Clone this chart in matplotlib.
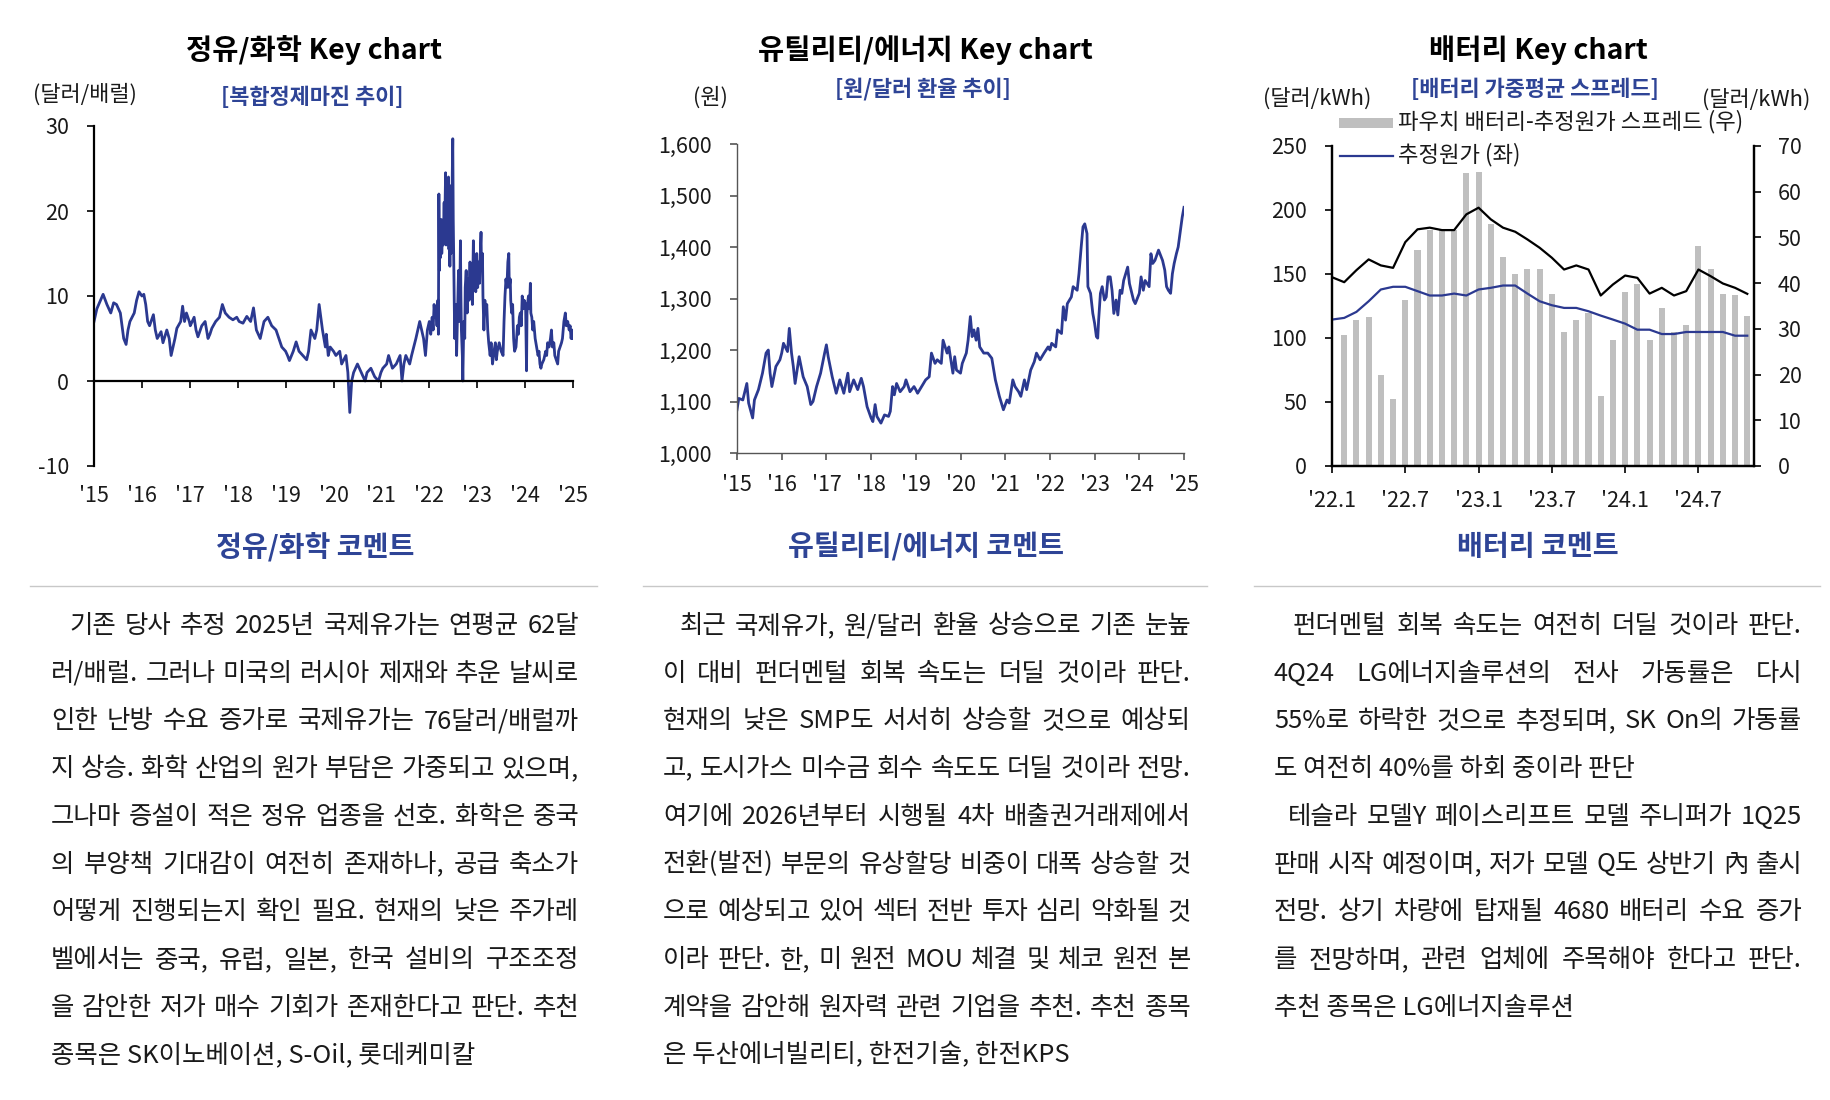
import matplotlib.pyplot as plt
import numpy as np
from matplotlib.lines import Line2D
from matplotlib.patches import Rectangle

FONT = ["Noto Sans CJK KR", "DejaVu Sans"]
plt.rcParams["font.family"] = FONT
plt.rcParams["axes.unicode_minus"] = False

W, H = 1830, 1100
LINE_BLUE = "#2B3990"
TEXT_BLUE = "#2E4496"
BAR_GRAY = "#BFBFBF"
INK = "#1A1A1A"

# --- 정유/화학: 복합정제마진 (달러/배럴), (연도, 값) ---
margin_2015_2021 = [
    (2015.00, 7.0), (2015.06, 8.5), (2015.19, 10.2), (2015.27, 9.0), (2015.35, 8.0),
    (2015.41, 9.2), (2015.47, 9.0), (2015.55, 8.0), (2015.62, 5.0), (2015.67, 4.3),
    (2015.71, 6.0), (2015.75, 7.0), (2015.84, 8.0), (2015.89, 9.5), (2015.94, 10.5),
    (2016.00, 10.0), (2016.04, 10.2), (2016.08, 9.0), (2016.12, 7.0), (2016.16, 6.5),
    (2016.24, 7.8), (2016.28, 6.0), (2016.32, 5.0), (2016.40, 5.8), (2016.44, 4.5),
    (2016.52, 6.0), (2016.57, 5.0), (2016.61, 3.0), (2016.65, 4.0), (2016.69, 5.0),
    (2016.73, 6.2), (2016.81, 7.0), (2016.85, 8.8), (2016.89, 7.0), (2016.93, 8.0),
    (2016.99, 7.0), (2017.01, 6.5), (2017.09, 7.5), (2017.13, 6.0), (2017.17, 5.2),
    (2017.25, 6.5), (2017.32, 7.0), (2017.38, 5.0), (2017.42, 5.5), (2017.46, 6.2),
    (2017.54, 7.0), (2017.62, 7.5), (2017.68, 9.0), (2017.74, 8.0), (2017.82, 7.5),
    (2017.90, 7.2), (2017.98, 7.5), (2018.03, 7.0), (2018.11, 6.8), (2018.19, 7.6),
    (2018.27, 7.0), (2018.33, 8.6), (2018.39, 6.0), (2018.47, 5.0), (2018.55, 7.0),
    (2018.63, 7.5), (2018.71, 6.5), (2018.80, 6.0), (2018.86, 5.0), (2018.92, 4.0),
    (2019.00, 3.5), (2019.04, 3.0), (2019.08, 2.4), (2019.16, 3.5), (2019.22, 4.6),
    (2019.28, 3.5), (2019.36, 3.0), (2019.44, 2.5), (2019.48, 3.5), (2019.53, 6.0),
    (2019.61, 5.0), (2019.65, 6.0), (2019.70, 9.0), (2019.77, 6.0), (2019.83, 4.0),
    (2019.85, 5.5), (2019.89, 3.0), (2019.93, 4.0), (2020.00, 3.5), (2020.05, 3.0),
    (2020.13, 3.5), (2020.17, 2.0), (2020.26, 3.0), (2020.30, 1.0), (2020.34, -3.7),
    (2020.38, 0.0), (2020.42, 1.0), (2020.50, 2.0), (2020.58, 1.0), (2020.66, 0.0),
    (2020.70, 1.0), (2020.78, 1.5), (2020.86, 0.5), (2020.94, 0.0), (2020.99, 1.0),
    (2021.03, 1.5), (2021.11, 2.0), (2021.15, 3.0), (2021.23, 1.5), (2021.31, 2.0),
    (2021.39, 3.0), (2021.43, 0.0), (2021.47, 2.0), (2021.51, 3.0), (2021.59, 2.0),
    (2021.63, 3.0), (2021.72, 5.0), (2021.80, 7.0), (2021.84, 6.0), (2021.88, 5.0),
    (2021.92, 3.0), (2021.96, 6.0),
]
margin_2022 = [
    (2022.00, 7.0), (2022.03, 5.5), (2022.06, 7.5), (2022.08, 6.0), (2022.10, 9.0),
    (2022.12, 7.5), (2022.14, 8.5), (2022.16, 6.5), (2022.18, 9.5), (2022.19, 5.5),
    (2022.20, 22.0), (2022.21, 13.0), (2022.22, 18.0), (2022.23, 14.5), (2022.25, 19.0),
    (2022.26, 15.0), (2022.28, 18.5), (2022.29, 16.0), (2022.31, 21.0), (2022.32, 17.5),
    (2022.34, 24.5), (2022.35, 16.0), (2022.36, 22.0), (2022.38, 17.0), (2022.40, 24.0),
    (2022.41, 15.5), (2022.42, 21.0), (2022.43, 13.5), (2022.44, 22.5), (2022.45, 15.0),
    (2022.46, 23.0), (2022.47, 17.0), (2022.48, 24.5), (2022.49, 28.5), (2022.50, 19.0),
    (2022.51, 14.0), (2022.52, 8.0), (2022.53, 5.0), (2022.55, 9.0), (2022.57, 3.0),
    (2022.59, 8.0), (2022.61, 13.0), (2022.63, 7.0), (2022.65, 16.5), (2022.66, 10.0),
    (2022.67, 6.0), (2022.69, 3.0), (2022.70, 0.0), (2022.72, 7.0), (2022.74, 5.0),
    (2022.75, 11.0), (2022.77, 13.0), (2022.79, 8.0), (2022.81, 12.0), (2022.83, 9.5),
    (2022.85, 14.0), (2022.86, 10.0), (2022.88, 13.0), (2022.90, 9.0), (2022.92, 16.5),
    (2022.93, 11.0), (2022.95, 14.0), (2022.97, 10.5), (2022.99, 15.0),
]
margin_2023 = [
    (2023.01, 11.0), (2023.03, 14.0), (2023.05, 11.5), (2023.07, 16.0), (2023.08, 17.5),
    (2023.09, 13.0), (2023.11, 15.0), (2023.12, 10.0), (2023.14, 6.0), (2023.16, 9.5),
    (2023.18, 8.0), (2023.20, 9.0), (2023.22, 6.0), (2023.24, 4.5), (2023.27, 3.0),
    (2023.29, 4.5), (2023.32, 2.0), (2023.35, 3.5), (2023.38, 4.5), (2023.40, 2.5),
    (2023.42, 3.5), (2023.46, 4.5), (2023.50, 3.5), (2023.54, 3.0), (2023.56, 7.0),
    (2023.58, 10.0), (2023.60, 12.0), (2023.62, 11.0), (2023.64, 14.0), (2023.66, 15.0),
    (2023.67, 11.0), (2023.69, 12.0), (2023.70, 9.5), (2023.72, 8.0), (2023.74, 9.0),
    (2023.76, 5.0), (2023.78, 3.5), (2023.81, 4.0), (2023.84, 6.5), (2023.86, 5.5),
    (2023.88, 7.5), (2023.90, 8.0), (2023.92, 6.5), (2023.94, 10.0), (2023.96, 8.5),
    (2023.98, 9.5),
]
margin_2024 = [
    (2024.01, 9.0), (2024.03, 1.2), (2024.04, 8.0), (2024.06, 9.5), (2024.07, 10.0),
    (2024.09, 8.5), (2024.11, 11.5), (2024.12, 8.0), (2024.14, 7.5), (2024.16, 6.0),
    (2024.18, 7.0), (2024.21, 5.0), (2024.24, 4.0), (2024.27, 3.0), (2024.29, 3.5),
    (2024.31, 2.0), (2024.33, 1.5), (2024.35, 2.0), (2024.39, 2.5), (2024.43, 3.5),
    (2024.45, 3.0), (2024.47, 4.5), (2024.50, 4.0), (2024.53, 5.0), (2024.55, 6.0),
    (2024.57, 4.0), (2024.60, 4.5), (2024.62, 3.0), (2024.65, 2.5), (2024.68, 2.0),
    (2024.70, 3.5), (2024.73, 4.0), (2024.76, 4.5), (2024.78, 5.0), (2024.81, 7.0),
    (2024.84, 8.0), (2024.86, 6.5), (2024.89, 7.0), (2024.92, 6.0), (2024.94, 6.5),
    (2024.96, 5.0), (2024.98, 6.0), (2025.00, 5.0),
]
year_ticks = [2015, 2016, 2017, 2018, 2019, 2020, 2021, 2022, 2023, 2024, 2025]
year_labels = ["'15", "'16", "'17", "'18", "'19", "'20", "'21", "'22", "'23", "'24", "'25"]
margin_ticks = [-10, 0, 10, 20, 30]

# --- 유틸리티/에너지: 원/달러 환율 (원) ---
fx_year = [
    2015.00, 2015.04, 2015.13, 2015.22, 2015.26, 2015.35, 2015.39, 2015.48, 2015.57, 2015.65,
    2015.70, 2015.74, 2015.78, 2015.87, 2015.96, 2016.00, 2016.04, 2016.13, 2016.17, 2016.22,
    2016.26, 2016.30, 2016.39, 2016.48, 2016.57, 2016.65, 2016.70, 2016.78, 2016.87, 2016.96,
    2017.00, 2017.04, 2017.13, 2017.22, 2017.30, 2017.39, 2017.48, 2017.52, 2017.61, 2017.70,
    2017.78, 2017.83, 2017.91, 2018.00, 2018.04, 2018.09, 2018.13, 2018.22, 2018.30, 2018.39,
    2018.43, 2018.48, 2018.52, 2018.57, 2018.65, 2018.74, 2018.78, 2018.87, 2018.96, 2019.00,
    2019.04, 2019.13, 2019.22, 2019.30, 2019.35, 2019.43, 2019.48, 2019.57, 2019.61, 2019.70,
    2019.74, 2019.83, 2019.87, 2019.91, 2020.00, 2020.04, 2020.13, 2020.17, 2020.22, 2020.26,
    2020.30, 2020.35, 2020.39, 2020.43, 2020.52, 2020.61, 2020.70, 2020.78, 2020.87, 2020.96,
    2021.04, 2021.09, 2021.17, 2021.22, 2021.30, 2021.35, 2021.43, 2021.48, 2021.57, 2021.65,
    2021.70, 2021.78, 2021.87, 2021.96, 2022.00, 2022.04, 2022.13, 2022.17, 2022.26, 2022.30,
    2022.35, 2022.39, 2022.48, 2022.52, 2022.61, 2022.65, 2022.70, 2022.74, 2022.78, 2022.83,
    2022.85, 2022.91, 2022.96, 2023.00, 2023.04, 2023.07, 2023.09, 2023.13, 2023.17, 2023.22,
    2023.26, 2023.30, 2023.35, 2023.39, 2023.43, 2023.48, 2023.52, 2023.57, 2023.61, 2023.65,
    2023.74, 2023.78, 2023.87, 2023.91, 2024.00, 2024.04, 2024.09, 2024.13, 2024.22, 2024.26,
    2024.30, 2024.35, 2024.43, 2024.52, 2024.57, 2024.61, 2024.65, 2024.70, 2024.74, 2024.78,
    2024.83, 2024.87, 2024.91, 2024.96, 2025.00,
]
fx_value = [
    1084, 1106, 1103, 1135, 1097, 1068, 1103, 1123, 1155, 1194,
    1200, 1155, 1129, 1168, 1181, 1194, 1213, 1197, 1242, 1194,
    1168, 1135, 1187, 1148, 1129, 1094, 1100, 1129, 1155, 1194,
    1210, 1187, 1148, 1116, 1142, 1116, 1155, 1119, 1142, 1123,
    1145, 1129, 1090, 1068, 1061, 1094, 1071, 1058, 1074, 1071,
    1081, 1129, 1113, 1135, 1119, 1129, 1142, 1119, 1129, 1123,
    1116, 1129, 1142, 1148, 1194, 1174, 1181, 1174, 1219, 1194,
    1206, 1155, 1187, 1161, 1155, 1174, 1194, 1219, 1265, 1226,
    1239, 1219, 1242, 1206, 1194, 1194, 1184, 1142, 1110, 1084,
    1103, 1097, 1142, 1129, 1119, 1110, 1142, 1123, 1161, 1177,
    1194, 1181, 1194, 1206, 1200, 1213, 1206, 1239, 1232, 1284,
    1258, 1290, 1303, 1323, 1316, 1348, 1400, 1439, 1445, 1426,
    1323, 1310, 1271, 1252, 1226, 1223, 1258, 1310, 1323, 1297,
    1303, 1342, 1342, 1316, 1271, 1297, 1268, 1316, 1310, 1335,
    1361, 1329, 1297, 1290, 1310, 1342, 1316, 1335, 1323, 1387,
    1368, 1374, 1394, 1374, 1355, 1323, 1316, 1310, 1348, 1368,
    1387, 1400, 1426, 1458, 1477,
]
fx_ticks = [1000, 1100, 1200, 1300, 1400, 1500, 1600]

# --- 배터리: 가중평균 스프레드 ('22.1 ~ '24.11, 월별) ---
pouch_price = [
    147.5, 143.6, 153.0, 161.4, 156.7, 154.8, 174.9, 184.9, 186.2, 184.3,
    184.3, 196.6, 201.8, 192.7, 186.2, 183.0, 177.0, 170.5, 162.7, 153.5,
    156.7, 153.5, 133.2, 141.8, 148.8, 147.0, 134.7, 139.2, 133.2, 136.6,
    153.5, 148.3, 142.6, 139.2, 134.5,
]
est_cost = [
    114.4, 115.7, 120.4, 128.7, 137.9, 140.0, 140.0, 136.6, 133.2, 133.2,
    134.7, 133.2, 137.9, 139.2, 141.0, 141.0, 134.7, 128.7, 125.6, 123.5,
    123.5, 120.9, 117.5, 114.4, 111.2, 106.5, 106.5, 103.1, 103.1, 104.7,
    104.7, 104.7, 104.7, 101.8, 101.8,
]
# bars start one month after the lines ('22.2 ~ '24.11)
pouch_spread = [
    28.6, 32.0, 32.5, 19.8, 14.6, 36.4, 47.3, 51.7, 51.7, 51.7,
    64.0, 64.4, 53.0, 45.7, 42.1, 43.0, 43.0, 37.7, 29.4, 32.0,
    33.5, 15.3, 27.6, 38.1, 39.9, 27.6, 34.6, 29.3, 30.8, 48.2,
    43.0, 37.7, 37.3, 32.9,
]
month_labels = ["'22.1", "'22.7", "'23.1", "'23.7", "'24.1", "'24.7"]
cost_ticks = [0, 50, 100, 150, 200, 250]
spread_ticks = [0, 10, 20, 30, 40, 50, 60, 70]

oil_comment = [
    "기존 당사 추정 2025년 국제유가는 연평균 62달",
    "러/배럴. 그러나 미국의 러시아 제재와 추운 날씨로",
    "인한 난방 수요 증가로 국제유가는 76달러/배럴까",
    "지 상승. 화학 산업의 원가 부담은 가중되고 있으며,",
    "그나마 증설이 적은 정유 업종을 선호. 화학은 중국",
    "의 부양책 기대감이 여전히 존재하나, 공급 축소가",
    "어떻게 진행되는지 확인 필요. 현재의 낮은 주가레",
    "벨에서는 중국, 유럽, 일본, 한국 설비의 구조조정",
    "을 감안한 저가 매수 기회가 존재한다고 판단. 추천",
    "종목은 SK이노베이션, S-Oil, 롯데케미칼",
]
util_comment = [
    "최근 국제유가, 원/달러 환율 상승으로 기존 눈높",
    "이 대비 펀더멘털 회복 속도는 더딜 것이라 판단.",
    "현재의 낮은 SMP도 서서히 상승할 것으로 예상되",
    "고, 도시가스 미수금 회수 속도도 더딜 것이라 전망.",
    "여기에 2026년부터 시행될 4차 배출권거래제에서",
    "전환(발전) 부문의 유상할당 비중이 대폭 상승할 것",
    "으로 예상되고 있어 섹터 전반 투자 심리 악화될 것",
    "이라 판단. 한, 미 원전 MOU 체결 및 체코 원전 본",
    "계약을 감안해 원자력 관련 기업을 추천. 추천 종목",
    "은 두산에너빌리티, 한전기술, 한전KPS",
]
battery_comment = [
    "펀더멘털 회복 속도는 여전히 더딜 것이라 판단.",
    "4Q24 LG에너지솔루션의 전사 가동률은 다시",
    "55%로 하락한 것으로 추정되며, SK On의 가동률",
    "도 여전히 40%를 하회 중이라 판단",
    "테슬라 모델Y 페이스리프트 모델 주니퍼가 1Q25",
    "판매 시작 예정이며, 저가 모델 Q도 상반기 內 출시",
    "전망. 상기 차량에 탑재될 4680 배터리 수요 증가",
    "를 전망하며, 관련 업체에 주목해야 한다고 판단.",
    "추천 종목은 LG에너지솔루션",
]


def fx(px):
    return px / W


def fy(py):
    return 1 - py / H


def axes_at(fig, left, top, right, bottom):
    return fig.add_axes([fx(left), fy(bottom), fx(right - left), (bottom - top) / H])


def style_ticks(ax, color, x_pad, y_pad):
    ax.tick_params(axis="y", direction="out", length=5, width=1.2, color=color,
                   labelsize=15.5, pad=y_pad, labelcolor=INK)
    ax.tick_params(axis="x", direction="out", length=5, width=1.2, color=color,
                   labelsize=15.5, pad=x_pad, labelcolor=INK)


fig = plt.figure(figsize=(W / 100, H / 100), dpi=100)

# 정유/화학 chart
margin_points = margin_2015_2021 + margin_2022 + margin_2023 + margin_2024
margin_year = [p[0] for p in margin_points]
margin_value = [p[1] for p in margin_points]
ax1 = axes_at(fig, 94, 126, 573, 466)
ax1.plot(margin_year, margin_value, color=LINE_BLUE, lw=2.0)
ax1.set_xlim(2015, 2025)
ax1.set_ylim(-10, 30)
ax1.set_yticks(margin_ticks)
ax1.set_xticks(year_ticks)
ax1.set_xticklabels(year_labels)
for side in ["top", "right"]:
    ax1.spines[side].set_visible(False)
ax1.spines["bottom"].set_position(("data", 0))
for side in ["left", "bottom"]:
    ax1.spines[side].set_linewidth(1.6)
    ax1.spines[side].set_color("black")
style_ticks(ax1, "black", 70, 13)

# 유틸리티/에너지 chart
ax2 = axes_at(fig, 737, 144, 1184, 453)
ax2.plot(fx_year, fx_value, color=LINE_BLUE, lw=2.0)
ax2.set_xlim(2015, 2025)
ax2.set_ylim(1000, 1600)
ax2.set_yticks(fx_ticks)
ax2.set_yticklabels([f"{v:,}" for v in fx_ticks])
ax2.set_xticks(year_ticks)
ax2.set_xticklabels(year_labels)
for side in ["top", "right"]:
    ax2.spines[side].set_visible(False)
for side in ["left", "bottom"]:
    ax2.spines[side].set_linewidth(1.0)
    ax2.spines[side].set_color("#555555")
style_ticks(ax2, "#555555", 10, 13)

# 배터리 chart
ax3 = axes_at(fig, 1332, 146, 1754, 466)
ax3r = ax3.twinx()
months = np.arange(len(pouch_price))
ax3r.bar(months[1:], pouch_spread, width=0.5, color=BAR_GRAY, zorder=1)
ax3.plot(months, pouch_price, color="black", lw=1.6)
ax3.plot(months, est_cost, color=LINE_BLUE, lw=1.6)
ax3.set_zorder(ax3r.get_zorder() + 1)
ax3.patch.set_visible(False)
ax3.set_xlim(0, 34.55)
ax3.set_ylim(0, 250)
ax3r.set_ylim(0, 70)
ax3.set_yticks(cost_ticks)
ax3r.set_yticks(spread_ticks)
ax3.set_xticks(months[::6])
ax3.set_xticklabels(month_labels)
for a in (ax3, ax3r):
    a.spines["top"].set_visible(False)
    for side in ["left", "right", "bottom"]:
        a.spines[side].set_linewidth(1.6)
        a.spines[side].set_color("black")
style_ticks(ax3, "black", 12, 13)
ax3r.tick_params(axis="y", direction="out", length=5, width=1.2, labelsize=15.5,
                 pad=12, labelcolor=INK)

# chart headings
for cx, title in [(314, "정유/화학 Key chart"), (925, "유틸리티/에너지 Key chart"),
                  (1538, "배터리 Key chart")]:
    fig.text(fx(cx), fy(50), title, ha="center", va="center", fontsize=20.5,
             fontweight="bold", color="black")
for cx, cy, sub in [(312, 98, "[복합정제마진 추이]"), (923, 89, "[원/달러 환율 추이]"),
                    (1535, 89, "[배터리 가중평균 스프레드]")]:
    fig.text(fx(cx), fy(cy), sub, ha="center", va="center", fontsize=15.8,
             fontweight="bold", color=TEXT_BLUE)
for cx, cy, unit in [(85, 95, "(달러/배럴)"), (710, 98, "(원)"), (1317, 99, "(달러/kWh)"),
                     (1756, 100, "(달러/kWh)")]:
    fig.text(fx(cx), fy(cy), unit, ha="center", va="center", fontsize=15.8, color=INK)

# battery legend
fig.patches.append(Rectangle((fx(1339), fy(128)), fx(54), 10 / H, transform=fig.transFigure,
                             facecolor=BAR_GRAY, edgecolor="none"))
fig.lines.append(Line2D([fx(1340), fx(1393)], [fy(156), fy(156)], transform=fig.transFigure,
                        color=LINE_BLUE, lw=1.6))
fig.text(fx(1398), fy(122), "파우치 배터리-추정원가 스프레드 (우)", ha="left", va="center",
         fontsize=16, color=INK)
fig.text(fx(1398), fy(155), "추정원가 (좌)", ha="left", va="center", fontsize=16, color=INK)

# comment headers and dividers
for cx, head, x0, x1 in [(315, "정유/화학 코멘트", 30, 597), (926, "유틸리티/에너지 코멘트", 643, 1207),
                         (1538, "배터리 코멘트", 1254, 1820)]:
    fig.text(fx(cx), fy(547), head, ha="center", va="center", fontsize=20.3,
             fontweight="bold", color=TEXT_BLUE)
    fig.lines.append(Line2D([fx(x0), fx(x1)], [fy(586), fy(586)], transform=fig.transFigure,
                            color="#C8C8C8", lw=1.0))

renderer = fig.canvas.get_renderer()
BODY = 18.3


def word_width(word):
    t = fig.text(0, 0, word, fontsize=BODY)
    w = t.get_window_extent(renderer=renderer).width
    t.remove()
    return w


def draw_comment(lines, left, right, indents, last_lines):
    for i, line in enumerate(lines):
        y = fy(626 + 47.7 * i)
        x_start = indents.get(i, left)
        words = line.split(" ")
        if i in last_lines or len(words) == 1:
            fig.text(fx(x_start), y, line, ha="left", va="center", fontsize=BODY, color=INK)
            continue
        widths = [word_width(w) for w in words]
        gap = (right - x_start - sum(widths)) / (len(words) - 1)
        x = x_start
        for word, w in zip(words, widths):
            fig.text(fx(x), y, word, ha="left", va="center", fontsize=BODY, color=INK)
            x += w + gap


draw_comment(oil_comment, 51, 579, {0: 69}, {9})
draw_comment(util_comment, 663, 1191, {0: 680}, {9})
draw_comment(battery_comment, 1274, 1802, {0: 1293, 4: 1288}, {3, 8})

fig.savefig("out.png", dpi=100)
